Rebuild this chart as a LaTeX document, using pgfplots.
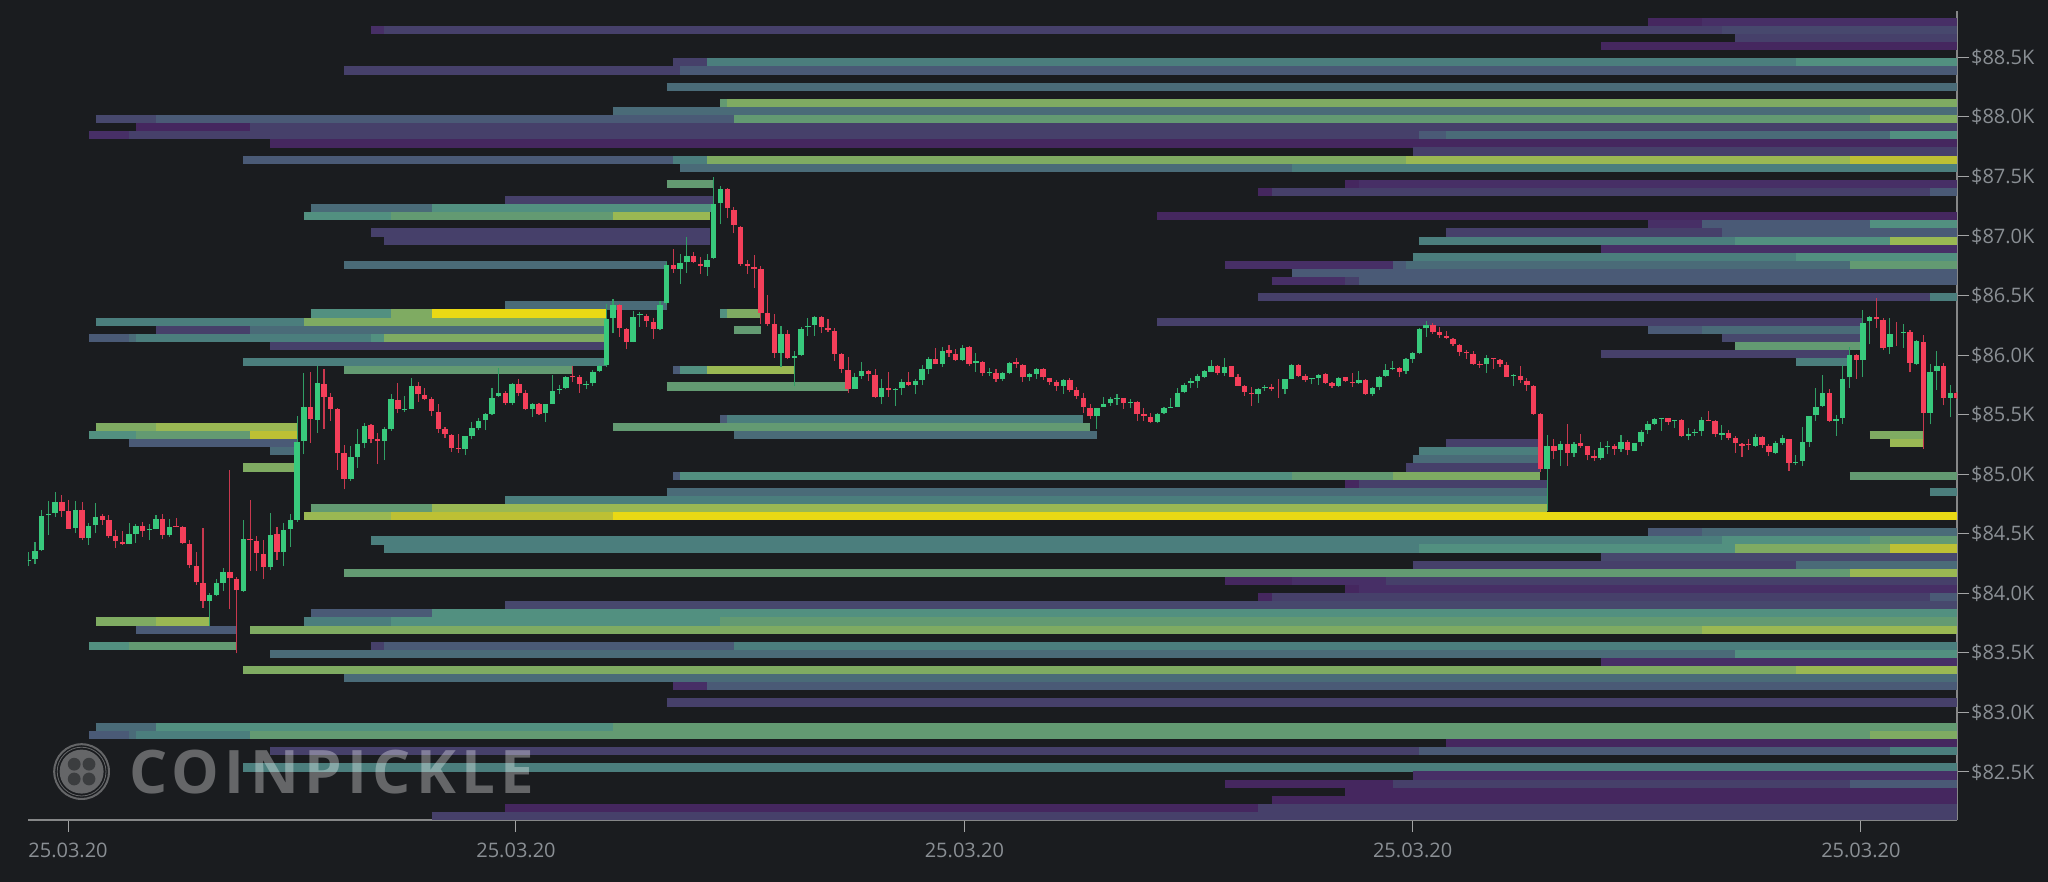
\documentclass[border=0pt]{standalone}
\usepackage{fontspec}
\setmainfont{Open Sans}
\newfontfamily\wmfont[LetterSpace=9]{Open Sans}
\usepackage{pgfplots}
\usepackage{pgfplotstable}
\pgfplotsset{compat=1.18}
\definecolor{bg}{HTML}{1A1C1F}
\definecolor{v1}{HTML}{45275F}
\definecolor{v1b}{HTML}{472F66}
\definecolor{v2}{HTML}{46406A}
\definecolor{v2h}{HTML}{47486D}
\definecolor{v3}{HTML}{4A5A76}
\definecolor{v4}{HTML}{4A6B78}
\definecolor{v5}{HTML}{4B7E7D}
\definecolor{v6}{HTML}{529080}
\definecolor{v7}{HTML}{639A72}
\definecolor{v8}{HTML}{7FAB62}
\definecolor{v9}{HTML}{9AB853}
\definecolor{v10}{HTML}{BDC034}
\definecolor{v11}{HTML}{E9D915}
\definecolor{cg}{HTML}{38C97C}
\definecolor{cr}{HTML}{F43F5A}
\definecolor{lab}{HTML}{8A8F94}
\newcommand{\seg}[4]{\addplot[forget plot,no markers,line width=4.12pt,line cap=butt,draw=#4] coordinates {(#2,#1) (#3,#1)};}
% i green high top bottom low
\pgfplotstableread{
i g h t b l
0 1 84349 84279 84273 84229
1 1 84427 84355 84285 84245
2 1 84699 84651 84360 84357
3 1 84775 84668 84660 84489
4 1 84853 84769 84671 84643
5 0 84822 84769 84693 84643
6 0 84783 84688 84542 84542
7 1 84775 84696 84548 84509
8 0 84763 84696 84464 84447
9 1 84593 84567 84467 84405
10 1 84755 84643 84570 84503
11 0 84665 84646 84618 84573
12 0 84660 84612 84478 84461
13 0 84528 84478 84441 84383
14 0 84523 84433 84411 84405
15 1 84590 84495 84413 84411
16 1 84584 84565 84500 84425
17 0 84598 84562 84523 84475
18 1 84581 84537 84528 84447
19 1 84657 84623 84542 84539
20 0 84663 84623 84492 84455
21 1 84626 84559 84486 84475
22 0 84629 84565 84559 84553
23 0 84565 84553 84419 84413
24 0 84444 84413 84234 84212
25 0 84346 84229 84091 84072
26 0 84545 84083 83935 83879
27 1 84001 83982 83935 83725
28 1 84122 84083 83982 83979
29 1 84209 84181 84089 84019
30 0 85035 84181 84125 83865
31 0 84139 84117 84024 83495
32 1 84615 84453 84019 84013
33 0 84783 84455 84444 84187
34 0 84483 84441 84341 84187
35 0 84447 84329 84223 84119
36 1 84677 84492 84220 84195
37 0 84559 84495 84349 84282
38 1 84593 84528 84346 84229
39 1 84665 84612 84539 84391
40 1 85489 85273 84618 84601
41 1 85847 85567 85279 85167
42 0 85860 85567 85461 85265
43 1 85907 85767 85459 85347
44 0 85884 85761 85649 85383
45 0 85686 85647 85546 85448
46 0 85552 85546 85174 85034
47 0 85244 85174 84964 84872
48 1 85236 85143 84964 84942
49 1 85376 85252 85146 85054
50 1 85434 85409 85258 85216
51 0 85420 85412 85297 85258
52 0 85342 85294 85283 85084
53 1 85398 85376 85283 85118
54 1 85670 85628 85376 85364
55 0 85762 85625 85544 85510
56 1 85656 85549 85538 85524
57 1 85804 85740 85549 85546
58 0 85773 85740 85670 85608
59 0 85720 85661 85628 85622
60 0 85650 85628 85530 85490
61 0 85588 85524 85381 85350
62 0 85398 85376 85334 85306
63 0 85336 85331 85222 85188
64 0 85334 85222 85210 85180
65 1 85320 85317 85208 85160
66 1 85440 85384 85320 85292
67 1 85468 85448 85384 85370
68 1 85510 85507 85454 85370
69 1 85720 85644 85507 85496
70 1 85888 85678 85653 85650
71 0 85700 85681 85600 85580
72 1 85762 85756 85600 85577
73 0 85796 85754 85684 85656
74 0 85706 85681 85544 85538
75 1 85594 85588 85546 85482
76 0 85594 85588 85507 85496
77 1 85588 85586 85510 85440
78 1 85832 85695 85591 85586
79 1 85748 85714 85706 85672
80 1 85824 85818 85720 85714
81 0 85910 85824 85812 85776
82 0 85832 85812 85754 85684
83 1 85784 85756 85745 85712
84 1 85874 85860 85762 85742
85 1 85924 85910 85863 85854
86 1 86428 86305 85913 85902
87 1 86468 86420 86311 86182
88 0 86426 86420 86230 86154
89 0 86224 86221 86109 86048
90 1 86372 86322 86112 86106
91 1 86364 86344 86336 86238
92 0 86344 86330 86288 86238
93 0 86308 86280 86221 86134
94 1 86456 86423 86218 86210
95 1 86778 86756 86434 86423
96 0 86888 86756 86722 86692
97 1 86848 86770 86722 86599
98 1 86988 86834 86778 86692
99 0 86868 86834 86784 86773
100 0 86826 86767 86748 86680
101 1 86848 86801 86742 86666
102 1 87498 87266 86812 86806
103 1 87422 87394 87274 87098
104 0 87399 87391 87231 87147
105 0 87245 87217 87091 87021
106 0 87085 87077 86769 86747
107 0 86797 86763 86747 86679
108 0 86839 86741 86727 86567
109 0 86747 86719 86355 86265
110 0 86503 86352 86259 86245
111 0 86343 86259 86021 85977
112 1 86243 86175 86019 85901
113 0 86209 86175 85977 85971
114 1 86033 85991 85979 85739
115 1 86237 86223 85999 85993
116 1 86310 86245 86234 86161
117 1 86327 86324 86251 86161
118 0 86327 86324 86237 86187
119 0 86301 86231 86209 86195
120 0 86231 86201 86013 85951
121 0 86021 86007 85887 85851
122 0 85985 85879 85719 85685
123 1 85853 85817 85719 85713
124 1 85940 85865 85823 85800
125 0 85879 85867 85845 85781
126 0 85881 85834 85646 85641
127 1 85803 85727 85649 85587
128 0 85862 85727 85705 85649
129 1 85725 85713 85705 85573
130 1 85803 85775 85722 85663
131 0 85856 85775 85747 85739
132 1 85803 85786 85747 85674
133 1 85915 85881 85789 85747
134 1 85985 85965 85887 85839
135 0 86063 85965 85929 85923
136 1 86069 86038 85926 85901
137 0 86083 86041 86021 85985
138 0 86055 86013 85957 85949
139 1 86083 86063 85957 85951
140 0 86075 86066 85926 85907
141 1 86021 85949 85937 85859
142 0 85951 85943 85853 85825
143 1 85895 85862 85856 85823
144 0 85887 85851 85803 85775
145 1 85856 85851 85803 85783
146 1 85943 85935 85853 85839
147 0 85979 85940 85929 85893
148 0 85923 85921 85814 85775
149 1 85851 85842 85817 85783
150 1 85890 85884 85845 85803
151 0 85890 85884 85814 85789
152 0 85811 85809 85772 85747
153 0 85789 85772 85739 85697
154 1 85797 85792 85739 85677
155 0 85811 85795 85711 85691
156 0 85733 85705 85655 85635
157 0 85683 85643 85565 85517
158 0 85587 85554 85487 85467
159 1 85559 85559 85487 85377
160 1 85649 85590 85568 85565
161 1 85646 85635 85599 85573
162 1 85677 85641 85629 85579
163 0 85643 85641 85599 85551
164 1 85635 85607 85596 85557
165 0 85615 85607 85509 85445
166 0 85559 85503 85489 85445
167 0 85511 85483 85438 85433
168 1 85517 85508 85441 85427
169 1 85561 85559 85514 85505
170 1 85637 85567 85559 85559
171 1 85724 85685 85567 85561
172 1 85763 85749 85687 85679
173 1 85805 85783 85766 85721
174 1 85841 85825 85783 85727
175 1 85875 85864 85816 85805
176 1 85959 85909 85861 85858
177 0 85917 85906 85850 85830
178 1 85973 85903 85853 85825
179 0 85909 85906 85816 85816
180 0 85841 85816 85743 85741
181 0 85749 85743 85690 85659
182 0 85732 85682 85673 85575
183 1 85721 85715 85671 85601
184 1 85749 85729 85721 85701
185 0 85760 85732 85713 85701
186 0 85797 85725 85725 85643
187 1 85802 85797 85713 85673
188 1 85928 85917 85802 85797
189 0 85923 85917 85825 85819
190 0 85839 85825 85791 85774
191 1 85805 85805 85797 85757
192 1 85839 85836 85805 85752
193 0 85850 85841 85766 85760
194 0 85774 85763 85741 85724
195 1 85816 85808 85743 85729
196 0 85819 85813 85780 85774
197 0 85850 85777 85766 85732
198 1 85867 85788 85763 85757
199 0 85797 85791 85671 85668
200 1 85729 85724 85673 85657
201 1 85825 85819 85729 85707
202 1 85923 85878 85825 85819
203 1 85951 85895 85883 85875
204 0 85897 85892 85861 85816
205 1 85976 85970 85864 85844
206 1 86026 86015 85970 85937
207 1 86225 86217 86015 86009
208 1 86284 86250 86225 86155
209 0 86273 86253 86197 86180
210 0 86233 86191 86169 86144
211 0 86200 86163 86144 86133
212 0 86141 86138 86091 86079
213 0 86091 86088 86029 85995
214 0 86043 86029 86015 85967
215 0 86035 86012 85925 85917
216 0 85953 85928 85920 85895
217 1 85998 85973 85923 85853
218 0 85973 85973 85967 85886
219 0 85965 85959 85923 85897
220 0 85945 85917 85819 85813
221 1 85841 85833 85822 85743
222 0 85909 85825 85788 85769
223 0 85805 85785 85749 85699
224 0 85746 85741 85505 85500
225 0 85517 85505 85043 85021
226 1 85329 85237 85046 84690
227 0 85293 85237 85197 85125
228 1 85279 85251 85203 85071
229 0 85419 85251 85179 85069
230 1 85271 85257 85179 85145
231 0 85341 85260 85240 85223
232 0 85240 85235 85162 85117
233 0 85207 85156 85134 85111
234 1 85268 85221 85134 85123
235 1 85282 85240 85229 85167
236 0 85251 85240 85212 85162
237 1 85333 85268 85212 85190
238 0 85285 85268 85201 85159
239 1 85265 85263 85198 85195
240 1 85369 85358 85268 85237
241 1 85447 85419 85369 85335
242 1 85475 85461 85422 85417
243 1 85475 85473 85464 85363
244 0 85475 85470 85442 85414
245 1 85459 85456 85447 85391
246 0 85464 85453 85319 85313
247 1 85391 85341 85324 85285
248 1 85383 85355 85347 85321
249 1 85481 85453 85366 85321
250 0 85529 85456 85447 85447
251 0 85453 85450 85335 85313
252 1 85417 85344 85333 85291
253 0 85369 85347 85307 85285
254 0 85324 85305 85263 85179
255 0 85265 85257 85240 85145
256 0 85293 85257 85249 85207
257 1 85341 85310 85240 85229
258 0 85324 85310 85246 85223
259 0 85251 85237 85184 85151
260 1 85277 85260 85181 85167
261 1 85327 85302 85260 85243
262 0 85299 85299 85097 85027
263 1 85159 85106 85095 85075
264 1 85394 85268 85111 85072
265 1 85492 85487 85274 85229
266 1 85725 85565 85495 85447
267 1 85831 85680 85571 85565
268 0 85713 85680 85447 85439
269 1 85495 85461 85450 85321
270 1 85921 85800 85473 85425
271 1 86069 86002 85814 85727
272 0 86013 86002 85963 85800
273 1 86377 86273 85963 85820
274 1 86332 86324 86285 86091
275 0 86483 86324 86299 86229
276 0 86313 86293 86063 86047
277 1 86315 86181 86069 86007
278 0 86279 86180 86180 86077
279 1 86257 86198 86189 86058
280 0 86209 86198 85935 85856
281 1 86125 86117 85929 85921
282 0 86173 86114 85517 85215
283 1 85929 85856 85517 85419
284 1 86033 85909 85867 85711
285 0 85935 85909 85641 85579
286 1 85753 85683 85641 85478
287 0 85691 85683 85643 85635
}\candles
\begin{document}
\begin{tikzpicture}[x=1pt,y=1pt]
\path[use as bounding box] (0,0) rectangle (1024,441);
\fill[bg] (0,0) rectangle (1024,441);
\begin{axis}[
  at={(14pt,31pt)},anchor=south west,
  scale only axis,width=964.5pt,height=404.5pt,
  xmin=-0.045,xmax=287,ymin=82097,ymax=88889,
  scaled y ticks=false,scaled x ticks=false,
  axis x line*=bottom,axis y line*=right,
  axis line style={-,draw=white!47!bg,line width=1pt},
  tick align=outside,major tick length=6pt,
  tick style={draw=white!60!bg,line width=.5pt},
  xtick={5.91,72.57,139.3,206.0,272.7},
  xticklabels={25.03.20,25.03.20,25.03.20,25.03.20,25.03.20},
  ytick={82500,83000,83500,84000,84500,85000,85500,86000,86500,87000,87500,88000,88500},
  yticklabels={\$82.5K,\$83.0K,\$83.5K,\$84.0K,\$84.5K,\$85.0K,\$85.5K,\$86.0K,\$86.5K,\$87.0K,\$87.5K,\$88.0K,\$88.5K},
  ticklabel style={font=\fontsize{10}{12}\selectfont,text=lab},
  x tick label style={yshift=-2pt},
  y tick label style={xshift=-2.5pt},
]
\seg{88798}{241}{249}{v1}\seg{88798}{249}{287}{v1b}
\seg{88730}{51}{53}{v1b}\seg{88730}{53}{252}{v2}\seg{88730}{252}{287}{v2h}
\seg{88662}{254}{287}{v2}
\seg{88594}{234}{287}{v1}
\seg{88458}{96}{101}{v2}\seg{88458}{101}{263}{v5}\seg{88458}{263}{287}{v6}
\seg{88390}{47}{97}{v2}\seg{88390}{97}{287}{v3}
\seg{88254}{95}{287}{v4}
\seg{88118}{103}{104}{v7}\seg{88118}{104}{287}{v8}
\seg{88050}{87}{287}{v4}
\seg{87982}{10}{19}{v2h}\seg{87982}{19}{105}{v3}\seg{87982}{105}{274}{v7}\seg{87982}{274}{287}{v8}
\seg{87913}{16}{33}{v1}\seg{87913}{33}{287}{v2}
\seg{87845}{9}{15}{v1b}\seg{87845}{15}{207}{v2}\seg{87845}{207}{211}{v3}\seg{87845}{211}{277}{v4}\seg{87845}{277}{287}{v6}
\seg{87777}{36}{287}{v1}
\seg{87709}{206}{287}{v2}
\seg{87641}{32}{96}{v3}\seg{87641}{96}{101}{v5}\seg{87641}{101}{205}{v8}\seg{87641}{205}{271}{v9}\seg{87641}{271}{287}{v10}
\seg{87573}{97}{188}{v4}\seg{87573}{188}{202}{v5}\seg{87573}{202}{287}{v5}
\seg{87437}{95}{102}{v7}\seg{87437}{196}{198}{v1}\seg{87437}{198}{287}{v1b}
\seg{87369}{183}{185}{v1}\seg{87369}{185}{283}{v2}\seg{87369}{283}{287}{v3}
\seg{87301}{71}{102}{v2}
\seg{87233}{42}{60}{v4}\seg{87233}{60}{102}{v6}
\seg{87165}{41}{54}{v6}\seg{87165}{54}{87}{v7}\seg{87165}{87}{101.5}{v9}\seg{87165}{168}{287}{v1}
\seg{87097}{241}{249}{v1b}\seg{87097}{249}{274}{v3}\seg{87097}{274}{287}{v6}
\seg{87029}{51}{101.5}{v2}\seg{87029}{211}{252}{v2}\seg{87029}{252}{287}{v3}
\seg{86961}{53}{101.5}{v2}\seg{86961}{207}{254}{v5}\seg{86961}{254}{277}{v6}\seg{86961}{277}{287}{v9}
\seg{86893}{234}{287}{v1b}
\seg{86825}{206}{263}{v5}\seg{86825}{263}{287}{v6}
\seg{86757}{47}{95}{v4}\seg{86757}{178}{203}{v1b}\seg{86757}{203}{205}{v3}\seg{86757}{205}{271}{v4}\seg{86757}{271}{287}{v7}
\seg{86689}{188}{202}{v3}\seg{86689}{202}{287}{v3}
\seg{86621}{185}{196}{v1b}\seg{86621}{196}{198}{v2}\seg{86621}{198}{287}{v3}
\seg{86485}{183}{283}{v2}\seg{86485}{283}{287}{v5}
\seg{86417}{71}{95}{v4}
\seg{86349}{42}{54}{v6}\seg{86349}{54}{60}{v8}\seg{86349}{60}{86}{v11}\seg{86349}{103}{104}{v6}\seg{86349}{104}{109}{v8}
\seg{86281}{10}{41}{v5}\seg{86281}{41}{86}{v8}\seg{86281}{168}{273}{v2}
\seg{86212}{19}{33}{v2}\seg{86212}{33}{86}{v4}\seg{86212}{105}{109}{v7}\seg{86212}{241}{249}{v3}\seg{86212}{249}{273}{v4}
\seg{86144}{9}{15}{v3}\seg{86144}{15}{16}{v4}\seg{86144}{16}{51}{v5}\seg{86144}{51}{53}{v6}\seg{86144}{53}{86}{v8}\seg{86144}{252}{273}{v2h}
\seg{86076}{36}{86}{v2}\seg{86076}{254}{273}{v7}
\seg{86008}{234}{271}{v2}
\seg{85940}{32}{86}{v5}\seg{85940}{263}{271}{v5}
\seg{85872}{47}{81}{v7}\seg{85872}{96}{97}{v3}\seg{85872}{97}{101}{v6}\seg{85872}{101}{114}{v9}
\seg{85736}{95}{122}{v7}
\seg{85464}{103}{104}{v3}\seg{85464}{104}{157}{v5}
\seg{85396}{10}{19}{v8}\seg{85396}{19}{40}{v9}\seg{85396}{87}{158}{v7}
\seg{85328}{9}{16}{v6}\seg{85328}{16}{33}{v7}\seg{85328}{33}{40}{v10}\seg{85328}{105}{159}{v4}\seg{85328}{274}{282}{v8}
\seg{85260}{15}{40}{v3}\seg{85260}{211}{225}{v2}\seg{85260}{277}{282}{v9}
\seg{85192}{36}{40}{v4}\seg{85192}{207}{225}{v5}
\seg{85124}{206}{225}{v4}
\seg{85056}{32}{40}{v8}\seg{85056}{205}{225}{v2}
\seg{84988}{96}{97}{v3}\seg{84988}{97}{188}{v6}\seg{84988}{188}{203}{v7}\seg{84988}{203}{225}{v8}\seg{84988}{271}{287}{v7}
\seg{84920}{196}{198}{v1}\seg{84920}{198}{226}{v2}
\seg{84852}{95}{185}{v4}\seg{84852}{185}{226}{v4}\seg{84852}{283}{287}{v5}
\seg{84784}{71}{183}{v5}\seg{84784}{183}{226}{v5}
\seg{84716}{42}{60}{v7}\seg{84716}{60}{226}{v9}
\seg{84648}{41}{54}{v9}\seg{84648}{54}{87}{v10}\seg{84648}{87}{168}{v11}\seg{84648}{168}{287}{v11}
\seg{84512}{241}{249}{v3}\seg{84512}{249}{287}{v4}
\seg{84444}{51}{252}{v5}\seg{84444}{252}{274}{v6}\seg{84444}{274}{287}{v7}
\seg{84376}{53}{207}{v5}\seg{84376}{207}{254}{v6}\seg{84376}{254}{277}{v8}\seg{84376}{277}{287}{v10}
\seg{84307}{234}{287}{v2h}
\seg{84239}{206}{263}{v2}\seg{84239}{263}{287}{v4}
\seg{84171}{47}{205}{v7}\seg{84171}{205}{271}{v7}\seg{84171}{271}{287}{v9}
\seg{84103}{178}{188}{v1}\seg{84103}{188}{202}{v1b}\seg{84103}{202}{287}{v2}
\seg{84035}{196}{198}{v1}\seg{84035}{198}{287}{v1b}
\seg{83967}{183}{185}{v1}\seg{83967}{185}{283}{v2}\seg{83967}{283}{287}{v3}
\seg{83899}{71}{287}{v2h}
\seg{83831}{42}{60}{v3}\seg{83831}{60}{287}{v6}
\seg{83763}{10}{19}{v8}\seg{83763}{19}{27}{v9}\seg{83763}{41}{54}{v5}\seg{83763}{54}{103}{v6}\seg{83763}{103}{287}{v7}
\seg{83695}{16}{31}{v3}\seg{83695}{33}{241}{v8}\seg{83695}{241}{249}{v8}\seg{83695}{249}{287}{v9}
\seg{83559}{9}{15}{v6}\seg{83559}{15}{31}{v7}\seg{83559}{51}{53}{v2}\seg{83559}{53}{105}{v3}\seg{83559}{105}{252}{v5}\seg{83559}{252}{287}{v5}
\seg{83491}{36}{254}{v4}\seg{83491}{254}{287}{v6}
\seg{83423}{234}{287}{v1b}
\seg{83355}{32}{263}{v8}\seg{83355}{263}{287}{v9}
\seg{83287}{47}{287}{v4}
\seg{83219}{96}{101}{v1b}\seg{83219}{101}{287}{v3}
\seg{83083}{95}{287}{v2}
\seg{82878}{10}{19}{v4}\seg{82878}{19}{87}{v6}\seg{82878}{87}{287}{v7}
\seg{82810}{9}{15}{v3}\seg{82810}{15}{16}{v4}\seg{82810}{16}{33}{v5}\seg{82810}{33}{274}{v7}\seg{82810}{274}{287}{v8}
\seg{82742}{211}{287}{v1}
\seg{82674}{36}{207}{v2}\seg{82674}{207}{277}{v3}\seg{82674}{277}{287}{v5}
\seg{82538}{32}{287}{v5}
\seg{82470}{206}{287}{v1b}
\seg{82402}{178}{203}{v1}\seg{82402}{203}{271}{v2}\seg{82402}{271}{287}{v3}
\seg{82334}{196}{198}{v1}\seg{82334}{198}{287}{v1}
\seg{82266}{185}{287}{v1}
\seg{82198}{71}{183}{v1}\seg{82198}{183}{283}{v2}\seg{82198}{283}{287}{v2}
\seg{82130}{60}{287}{v2}
% wicks
\addplot[draw=none,mark=none,forget plot,error bars/.cd,y dir=plus,y explicit,error mark=none,error bar style={draw=cg!75!bg,line width=.55pt,mark=none}]
  table[x=i,y expr={\thisrow{g}==1?\thisrow{l}:nan},y error plus expr={\thisrow{h}-\thisrow{l}}] {\candles};
\addplot[draw=none,mark=none,forget plot,error bars/.cd,y dir=plus,y explicit,error mark=none,error bar style={draw=cr!80!bg,line width=.55pt,mark=none}]
  table[x=i,y expr={\thisrow{g}==0?\thisrow{l}:nan},y error plus expr={\thisrow{h}-\thisrow{l}}] {\candles};
% bodies
\addplot[draw=none,mark=none,forget plot,error bars/.cd,y dir=plus,y explicit,error mark=none,error bar style={draw=cg,line width=2.7pt,mark=none}]
  table[x=i,y expr={\thisrow{g}==1?\thisrow{b}:nan},y error plus expr={\thisrow{t}-\thisrow{b}}] {\candles};
\addplot[draw=none,mark=none,forget plot,error bars/.cd,y dir=plus,y explicit,error mark=none,error bar style={draw=cr,line width=2.7pt,mark=none}]
  table[x=i,y expr={\thisrow{g}==0?\thisrow{b}:nan},y error plus expr={\thisrow{t}-\thisrow{b}}] {\candles};
\end{axis}
% watermark
\begin{scope}[opacity=.33]
\fill[white,even odd rule] (40.8,55.2) circle (14.2) (40.8,55.2) circle (13.2);
\fill[white,even odd rule] (40.8,55.2) circle (12.4) (40.8,55.2) circle (12.0);
\fill[white] (40.8,55.2) circle (11);
\end{scope}
\fill[bg,opacity=.55] (37.1,58.9) circle (3.2) (44.5,58.9) circle (3.2) (37.1,51.5) circle (3.2) (44.5,51.5) circle (3.2);
\node[anchor=west,inner sep=0pt,text=white,text opacity=.33] at (64.5,55.2) {\wmfont\bfseries\fontsize{30}{30}\selectfont COINPICKLE};
\end{tikzpicture}
\end{document}
